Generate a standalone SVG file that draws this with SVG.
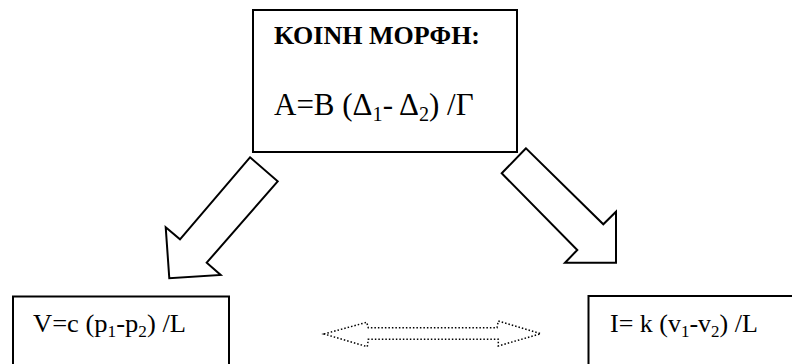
<svg xmlns="http://www.w3.org/2000/svg" width="792" height="364" viewBox="0 0 792 364">
<style>
.box{fill:#fff;stroke:#000;stroke-width:2}
.arr{fill:#fff;stroke:#000;stroke-width:2;stroke-linejoin:miter}
.darr{fill:none;stroke:#000;stroke-width:1.5;stroke-dasharray:1.5 2}
text{fill:#000}
.sub{font-size:65%}
</style>
<rect width="792" height="364" fill="#fff"/>
<g id="general">
<rect class="box" x="253" y="10" width="264" height="142"/>
<text font-family="Liberation Serif, DejaVu Serif, serif" x="274" y="44" font-size="26" font-weight="bold">ΚΟΙΝΗ ΜΟΡΦΗ:</text>
<text font-family="Liberation Serif, DejaVu Serif, serif" x="274" y="115" font-size="31">A=B (Δ<tspan class="sub" dy="6">1</tspan><tspan dy="-6">- Δ</tspan><tspan class="sub" dy="6">2</tspan><tspan dy="-6">) /Γ</tspan></text>
</g>
<g id="fluid">
<rect class="box" x="13" y="296.5" width="216" height="80"/>
<text font-family="Liberation Serif, DejaVu Serif, serif" x="33" y="332" font-size="25" textLength="153" lengthAdjust="spacingAndGlyphs">V=c (p<tspan class="sub" dy="5">1</tspan><tspan dy="-5">-p</tspan><tspan class="sub" dy="5">2</tspan><tspan dy="-5">) /L</tspan></text>
</g>
<g id="electric">
<rect class="box" x="588.5" y="296" width="220" height="80"/>
<text font-family="Liberation Serif, DejaVu Serif, serif" x="610" y="332" font-size="26">I= k (v<tspan class="sub" dy="5">1</tspan><tspan dy="-5">-v</tspan><tspan class="sub" dy="5">2</tspan><tspan dy="-5">) /L</tspan></text>
</g>
<g id="connectors">
<polygon class="arr" points="250,157.3 277.7,181.3 206.7,262.7 220.7,275 169.3,278.3 165.7,227.3 180,239.3"/>
<polygon class="arr" points="526,148.3 501.7,173.3 577.3,250 565,262.7 616,262.7 616,211.7 603.3,224.3"/>
<polygon class="darr" points="324,334 366.7,322.3 368.3,327.7 497,327.7 498.3,321 540.7,333.7 498.3,346 498.3,339.3 368.3,339.3 367.3,346.7"/>
</g>
</svg>
